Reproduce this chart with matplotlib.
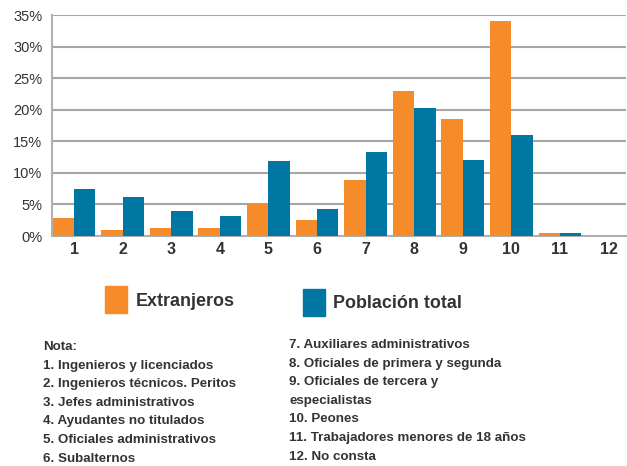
import matplotlib
matplotlib.use('Agg')
import matplotlib.pyplot as plt
import numpy as np

# datos
categorias = ['1', '2', '3', '4', '5', '6', '7', '8', '9', '10', '11', '12']
extranjeros = [2.9, 1.0, 1.3, 1.3, 5.0, 2.5, 8.8, 23.0, 18.6, 34.0, 0.5, 0.0]
poblacion_total = [7.4, 6.1, 4.0, 3.2, 11.9, 4.3, 13.3, 20.2, 12.0, 16.0, 0.5, 0.0]

notas_izq = ['Nota:', '1. Ingenieros y licenciados', '2. Ingenieros técnicos. Peritos',
             '3. Jefes administrativos', '4. Ayudantes no titulados',
             '5. Oficiales administrativos', '6. Subalternos']
notas_der = ['7. Auxiliares administrativos', '8. Oficiales de primera y segunda',
             '9. Oficiales de tercera y', 'especialistas', '10. Peones',
             '11. Trabajadores menores de 18 años', '12. No consta']

naranja = '#F58B29'
azul = '#0076A2'
plt.rcParams['font.family'] = ['Liberation Sans', 'DejaVu Sans']

fig = plt.figure(figsize=(6.27, 4.66), dpi=100)
ax = fig.add_axes([52/627, 1-236/466, 574/627, 221/466])

x = np.arange(1, len(categorias)+1)
w = 0.44
ax.bar(x - w/2, extranjeros, w, color=naranja, zorder=3)
ax.bar(x + w/2, poblacion_total, w, color=azul, zorder=3)

ax.set_xlim(0.547, 12.36)
ax.set_ylim(0, 35)
ax.set_yticks(range(0, 36, 5))
ax.set_yticklabels(['{}%'.format(v) for v in range(0, 36, 5)], fontsize=10.5, color='#333333')
ax.set_xticks(x)
ax.set_xticklabels(categorias, fontsize=11.5, fontweight='bold', color='#333333')
ax.tick_params(axis='y', length=0, pad=7)
ax.tick_params(axis='x', length=0, pad=4)
ax.yaxis.grid(True, color='#a6a6a6', linewidth=1.5, zorder=0)
for s in ['top', 'right']:
    ax.spines[s].set_visible(False)
ax.spines['left'].set_color('#b0b0b0')
ax.spines['left'].set_linewidth(1.5)
ax.spines['bottom'].set_color('#b0b0b0')
ax.spines['bottom'].set_linewidth(1.5)

# leyenda manual
fig.patches.append(plt.Rectangle((105/627, 1-313/466), 22/627, 27/466,
                                 transform=fig.transFigure, color=naranja))
fig.patches.append(plt.Rectangle((303/627, 1-316/466), 22/627, 27/466,
                                 transform=fig.transFigure, color=azul))
fig.text(136/627, 1-301/466, 'Extranjeros', fontsize=12.9, fontweight='bold',
         color='#333333', va='center')
fig.text(333/627, 1-303/466, 'Población total', fontsize=12.9, fontweight='bold',
         color='#333333', va='center')

# notas
for i, t in enumerate(notas_izq):
    fig.text(43/627, 1-(347 + i*18.6)/466, t, fontsize=9.6, fontweight='bold',
             color='#333333', va='center')
for i, t in enumerate(notas_der):
    fig.text(289/627, 1-(345 + i*18.6)/466, t, fontsize=9.6, fontweight='bold',
             color='#333333', va='center')

fig.savefig('out.png', dpi=100)
